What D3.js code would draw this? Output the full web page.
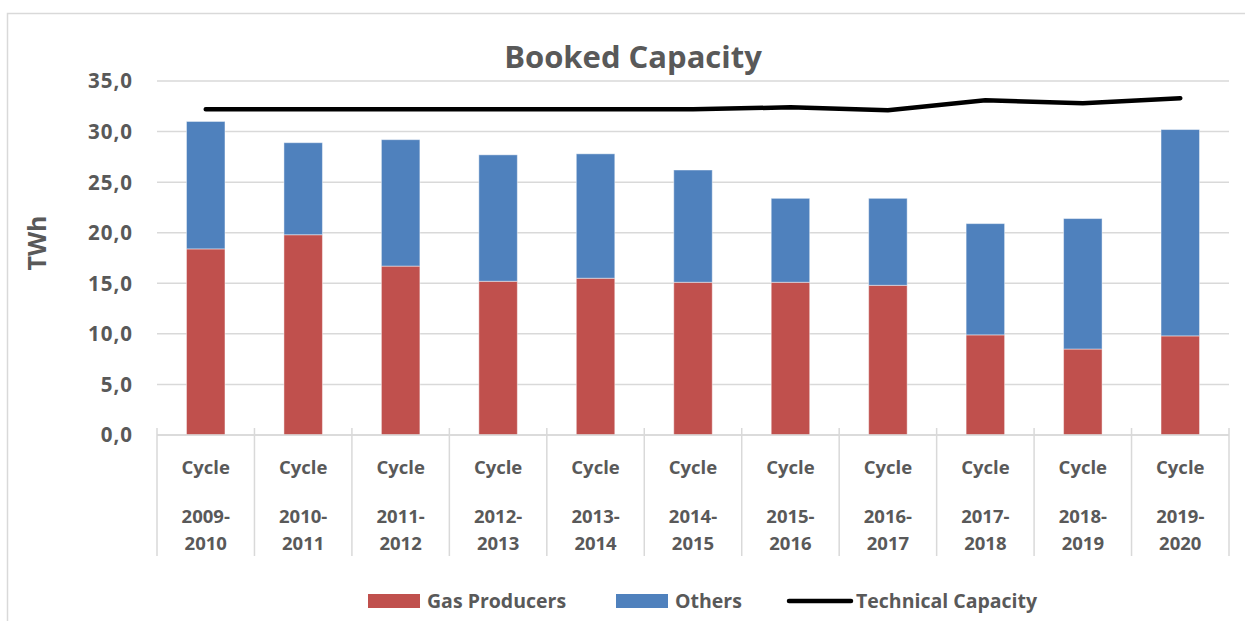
<!DOCTYPE html>
<html>
<head>
<meta charset="utf-8">
<script src="https://cdn.jsdelivr.net/npm/d3@7"></script>
<style>
  body { margin: 0; background: #fff; }
  text { font-family: "Open Sans", Lato, sans-serif; font-weight: bold; fill: #595959; }
</style>
</head>
<body>
<div id="chart"></div>
<script>
const cycles = ['2009-2010', '2010-2011', '2011-2012', '2012-2013', '2013-2014', '2014-2015',
                '2015-2016', '2016-2017', '2017-2018', '2018-2019', '2019-2020'];
const gasProducers = [18.4, 19.8, 16.7, 15.2, 15.5, 15.1, 15.1, 14.8, 9.9, 8.5, 9.8];
const totalBooked = [31.0, 28.9, 29.2, 27.7, 27.8, 26.2, 23.4, 23.4, 20.9, 21.4, 30.2];
const others = totalBooked.map((t, i) => +(t - gasProducers[i]).toFixed(1));
const technicalCapacity = [32.2, 32.2, 32.2, 32.2, 32.2, 32.2, 32.4, 32.1, 33.1, 32.8, 33.3];
const yTicks = [0, 5, 10, 15, 20, 25, 30, 35];

const width = 1245, height = 621;
const margin = { left: 157, right: 16, top: 81, bottom: 186 };
const red = '#C0504D', blue = '#4F81BD', grid = '#d9d9d9';

const svg = d3.select('#chart').append('svg')
    .attr('width', width)
    .attr('height', height);

// outer frame
svg.append('rect')
    .attr('x', 7.5).attr('y', 13.5)
    .attr('width', width).attr('height', height)
    .attr('fill', 'none')
    .attr('stroke', grid)
    .attr('stroke-width', 1.5);

const x = d3.scaleBand()
    .domain(cycles)
    .range([margin.left, width - margin.right]);

const y = d3.scaleLinear()
    .domain([0, 35])
    .range([height - margin.bottom, margin.top]);

// gridlines
svg.append('g')
  .selectAll('line')
  .data(yTicks)
  .join('line')
    .attr('x1', margin.left).attr('x2', width - margin.right)
    .attr('y1', d => y(d)).attr('y2', d => y(d))
    .attr('stroke', grid)
    .attr('stroke-width', 1.5);

// y labels
svg.append('g')
    .attr('font-size', 20.5)
    .attr('letter-spacing', 1)
    .attr('text-anchor', 'end')
  .selectAll('text')
  .data(yTicks)
  .join('text')
    .attr('x', 133)
    .attr('y', d => y(d))
    .attr('dy', '0.36em')
    .text(d => d3.format('.1f')(d).replace('.', ','));

svg.append('text')
    .attr('transform', 'translate(46,243) rotate(-90)')
    .attr('text-anchor', 'middle')
    .attr('font-size', 25)
    .text('TWh');

// stacked bars
const barW = x.bandwidth() * 0.395;
const stackData = cycles.map((c, i) => ({ cycle: c, gas: gasProducers[i], others: others[i] }));
const series = d3.stack().keys(['gas', 'others'])(stackData);
const colors = { gas: red, others: blue };

svg.append('g')
  .selectAll('g')
  .data(series)
  .join('g')
    .attr('fill', s => colors[s.key])
  .selectAll('rect')
  .data(s => s)
  .join('rect')
    .attr('x', d => x(d.data.cycle) + (x.bandwidth() - barW) / 2)
    .attr('y', d => y(d[1]))
    .attr('width', barW)
    .attr('height', d => y(d[0]) - y(d[1]))
    .attr('stroke', 'rgba(255,255,255,0.45)')
    .attr('stroke-width', 1);

// x axis with category separators
svg.append('line')
    .attr('x1', margin.left).attr('x2', width - margin.right)
    .attr('y1', y(0)).attr('y2', y(0))
    .attr('stroke', grid).attr('stroke-width', 1.5);

const bounds = cycles.map(c => x(c)).concat([width - margin.right]);
svg.append('g')
  .selectAll('line')
  .data(bounds)
  .join('line')
    .attr('x1', d => d).attr('x2', d => d)
    .attr('y1', y(0) - 7).attr('y2', 556)
    .attr('stroke', grid).attr('stroke-width', 1.5);

const xLabels = svg.append('g')
    .attr('font-size', 18.5)
    .attr('text-anchor', 'middle')
  .selectAll('text')
  .data(cycles)
  .join('text')
    .attr('x', d => x(d) + x.bandwidth() / 2);
xLabels.append('tspan').attr('y', 474).text('Cycle');
xLabels.append('tspan').attr('x', d => x(d) + x.bandwidth() / 2).attr('y', 523).text(d => d.split('-')[0] + '-');
xLabels.append('tspan').attr('x', d => x(d) + x.bandwidth() / 2).attr('y', 550).text(d => d.split('-')[1]);

// technical capacity line
const line = d3.line()
    .x((d, i) => x(cycles[i]) + x.bandwidth() / 2)
    .y(d => y(d));

svg.append('path')
    .datum(technicalCapacity)
    .attr('fill', 'none')
    .attr('stroke', '#000')
    .attr('stroke-width', 4.5)
    .attr('stroke-linecap', 'round')
    .attr('stroke-linejoin', 'round')
    .attr('d', line);

// title
svg.append('text')
    .attr('x', 633).attr('y', 68)
    .attr('text-anchor', 'middle')
    .attr('font-size', 31)
    .text('Booked Capacity');

// legend
const legend = svg.append('g').attr('font-size', 19.5);
const items = [
  { name: 'Gas Producers', type: 'rect', color: red, x: 368 },
  { name: 'Others', type: 'rect', color: blue, x: 616 },
  { name: 'Technical Capacity', type: 'line', color: '#000', x: 789 }
];
items.forEach(it => {
  if (it.type === 'rect') {
    legend.append('rect')
        .attr('x', it.x).attr('y', 594)
        .attr('width', 52).attr('height', 14)
        .attr('fill', it.color);
  } else {
    legend.append('line')
        .attr('x1', it.x).attr('x2', it.x + 62)
        .attr('y1', 601).attr('y2', 601)
        .attr('stroke', it.color).attr('stroke-width', 4.5)
        .attr('stroke-linecap', 'round');
  }
  legend.append('text')
      .attr('x', it.x + (it.type === 'rect' ? 59 : 67))
      .attr('y', 608)
      .text(it.name);
});
</script>
</body>
</html>
